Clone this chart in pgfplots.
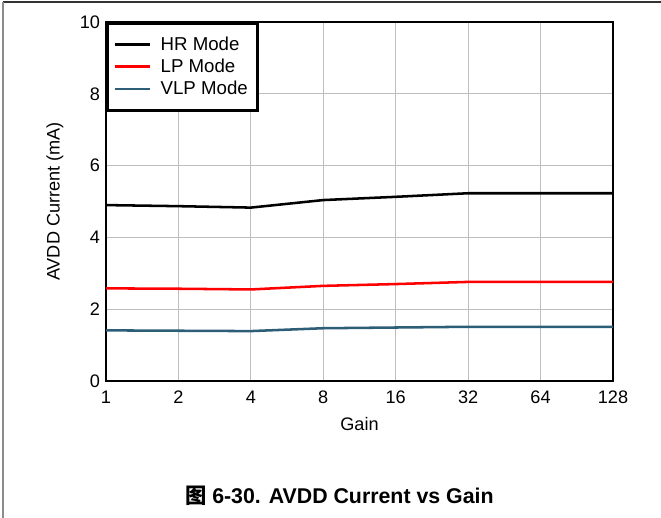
\documentclass[border=0pt]{standalone}
\usepackage{fontspec}
\setmainfont{Liberation Sans}
\newfontfamily\cjk{Noto Sans CJK SC}
\usepackage{pgfplots}
\pgfplotsset{compat=1.18}
\definecolor{vlp}{RGB}{44,94,120}
\definecolor{gridgray}{RGB}{190,190,190}
\begin{document}
\begin{tikzpicture}
\useasboundingbox (0,0) rectangle (495.75pt,388.5pt);
\draw[black!80, line width=0.8pt] (2.25pt,387pt) -- (495.75pt,387pt);
\draw[black!45, line width=0.8pt] (2.25pt,387pt) -- (2.25pt,0pt);
\begin{axis}[
  at={(79.5pt,102.75pt)}, anchor=south west,
  scale only axis, width=380.25pt, height=269.25pt,
  xmin=0, xmax=7, ymin=0, ymax=10,
  xtick={0,1,2,3,4,5,6,7},
  xticklabels={1,2,4,8,16,32,64,128},
  ytick={0,2,4,6,8,10},
  grid=major,
  major grid style={gridgray, line width=0.75pt},
  axis line style={line width=2.2pt},
  tick style={draw=none},
  /pgf/number format/assume math mode=true,
  tick label style={font=\fontsize{13.6}{16}\selectfont},
  xticklabel style={yshift=-4pt},
  yticklabel style={xshift=-1pt},
  xlabel={Gain}, ylabel={AVDD Current (mA)},
  label style={font=\fontsize{13.6}{16}\selectfont},
  xlabel style={at={(axis description cs:0.5,-0.1198)}, anchor=center},
  ylabel style={at={(axis description cs:-0.1006,0.5)}, anchor=center},
  legend style={at={(0,1)}, anchor=north west, draw=black, line width=2.2pt,
    font=\fontsize{14}{16}\selectfont, inner xsep=5pt, inner ysep=8pt,
    row sep=1pt, cells={anchor=west}},
  legend cell align=left,
  legend image code/.code={\draw[#1, line width=1.9pt] (0pt,0pt) -- (26pt,0pt); \path (31pt,0pt);},
]
\addplot[black, line width=1.9pt] coordinates {(0,4.90) (1,4.87) (2,4.83) (3,5.04) (4,5.13) (5,5.23) (6,5.23) (7,5.23)};
\addlegendentry{HR Mode}
\addplot[red, line width=1.9pt] coordinates {(0,2.58) (1,2.57) (2,2.55) (3,2.65) (4,2.70) (5,2.76) (6,2.76) (7,2.76)};
\addlegendentry{LP Mode}
\addplot[vlp, line width=1.9pt] coordinates {(0,1.41) (1,1.40) (2,1.39) (3,1.47) (4,1.49) (5,1.51) (6,1.51) (7,1.51)};
\addlegendentry{VLP Mode}
\end{axis}
\node[font=\fontsize{16}{18}\selectfont\bfseries] at (254.5pt,16.5pt) {{\cjk\bfseries 图} 6-30. AVDD Current vs Gain};
\end{tikzpicture}
\end{document}
